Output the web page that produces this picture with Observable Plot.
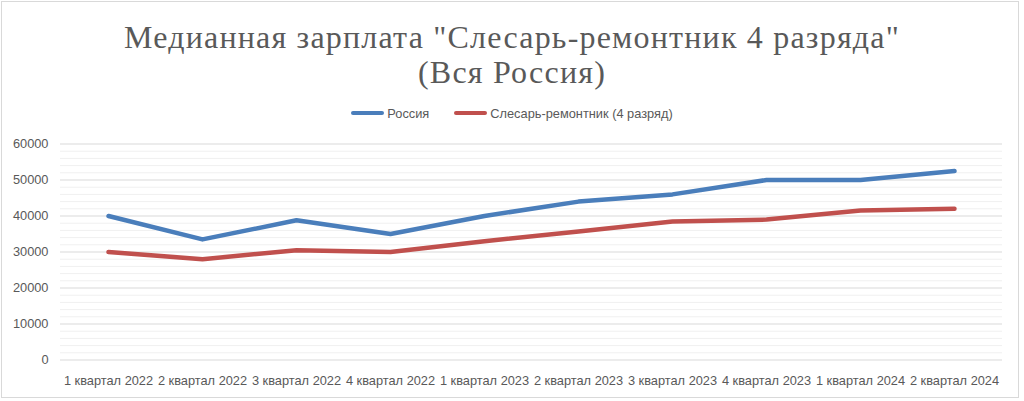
<!DOCTYPE html>
<html>
<head>
<meta charset="utf-8">
<script src="https://cdn.jsdelivr.net/npm/d3@7"></script>
<script src="https://cdn.jsdelivr.net/npm/@observablehq/plot@0.6"></script>
<style>
  html, body { margin: 0; padding: 0; background: #fff; }
  #wrap { position: relative; width: 1024px; height: 401px; overflow: hidden; }
  #frame { position: absolute; left: 1px; top: 1px; width: 1016px; height: 395px; border: 1px solid #d9d9d9; pointer-events: none; }
  #title { padding-top: 20px; text-align: center; font-family: "Liberation Serif", serif; font-size: 32px; letter-spacing: 1.2px; line-height: 35px; color: #595959; }
  #legend { height: 40px; display: flex; justify-content: center; align-items: center; gap: 25px; font-family: "Liberation Sans", sans-serif; font-size: 12.8px; color: #595959; padding-top: 6px; box-sizing: border-box; }
  .item { display: flex; align-items: center; gap: 3px; }
  .sw { width: 33px; height: 4.5px; border-radius: 3px; }
  svg { display: block; }
</style>
</head>
<body>
<div id="wrap">
  <div id="title"></div>
  <div id="legend"></div>
  <div id="chart"></div>
  <div id="frame"></div>
</div>
<script>
const titleLines = ['Медианная зарплата "Слесарь-ремонтник 4 разряда"', '(Вся Россия)'];
const quarters = ["1 квартал 2022","2 квартал 2022","3 квартал 2022","4 квартал 2022","1 квартал 2023","2 квартал 2023","3 квартал 2023","4 квартал 2023","1 квартал 2024","2 квартал 2024"];
const seriesNames = ["Россия", "Слесарь-ремонтник (4 разряд)"];
const russia = [40000, 33500, 38800, 35000, 40000, 44000, 46000, 50000, 50000, 52500];
const locksmith = [30000, 28000, 30500, 30000, 33000, 35700, 38500, 39000, 41500, 42000];
const colors = ["#4a7ebb", "#c0504d"];
const majorTicks = [0, 10000, 20000, 30000, 40000, 50000, 60000];
const minorTicks = d3.range(0, 60001, 2000).filter(v => v % 10000 !== 0);

document.getElementById("title").innerHTML = titleLines.map(t => `<div>${t.replace(/"/g, "&quot;")}</div>`).join("");
document.getElementById("legend").innerHTML = seriesNames.map((n, i) =>
  `<div class="item"><div class="sw" style="background:${colors[i]}"></div><span>${n}</span></div>`).join("");

const data = [];
quarters.forEach((q, i) => {
  data.push({q, series: seriesNames[0], value: russia[i]});
  data.push({q, series: seriesNames[1], value: locksmith[i]});
});

const chart = Plot.plot({
  width: 1024,
  height: 271,
  marginTop: 13.5,
  marginBottom: 41.5,
  marginLeft: 60,
  marginRight: 22,
  style: { fontFamily: "Liberation Sans, sans-serif", fontSize: "12.8px", color: "#595959", background: "transparent" },
  x: { type: "point", domain: quarters, padding: 0.5, label: null },
  y: { domain: [0, 60000], label: null },
  color: { domain: seriesNames, range: colors },
  marks: [
    Plot.ruleY(minorTicks, { stroke: "#f0f0f0", strokeWidth: 1 }),
    Plot.ruleY(majorTicks, { stroke: "#d9d9d9", strokeWidth: 1 }),
    Plot.axisY({ ticks: majorTicks, tickSize: 0, tickPadding: 12, tickFormat: d => String(d), label: null, fill: "#595959" }),
    Plot.axisX({ tickSize: 0, tickPadding: 16, label: null, fill: "#595959" }),
    Plot.line(data, { x: "q", y: "value", z: "series", stroke: "series", strokeWidth: 4.5, strokeLinecap: "round", strokeLinejoin: "round" })
  ]
});
document.getElementById("chart").appendChild(chart);
</script>
</body>
</html>
